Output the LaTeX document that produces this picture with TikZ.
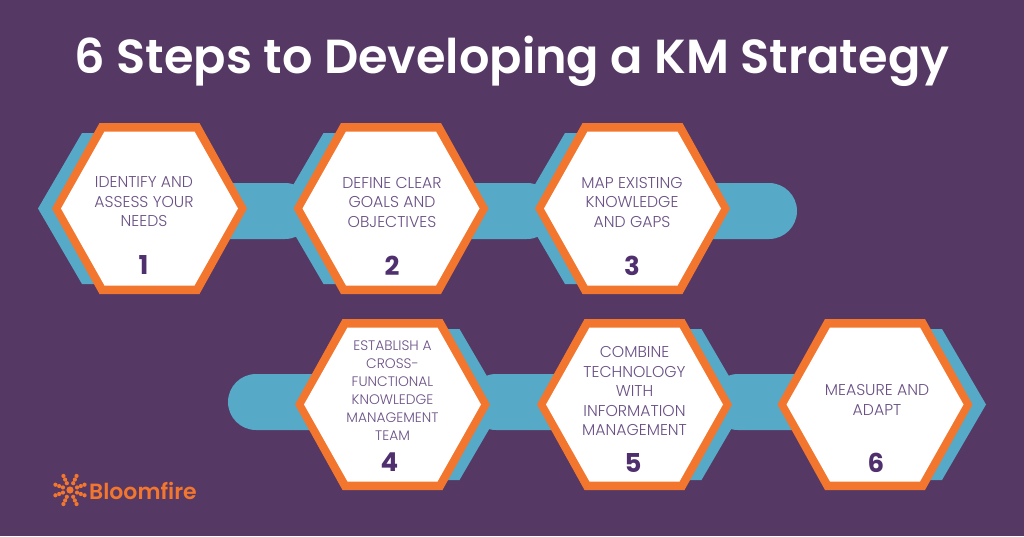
\documentclass[tikz,border=0pt]{standalone}
\usepackage{fontspec}
\setmainfont[UprightFont=* Light]{Poppins}
\newfontfamily\ttlfont[UprightFont=* SemiBold]{Poppins}
\newfontfamily\numfont[UprightFont=* Bold]{Poppins}
\newfontfamily\logofont[UprightFont=* SemiBold]{Poppins}
\definecolor{bgpurple}{HTML}{553864}
\definecolor{hexblue}{HTML}{57A9C8}
\definecolor{hexorange}{HTML}{F2762E}
\definecolor{txtpurple}{HTML}{6A5085}
\definecolor{numpurple}{HTML}{4F2F6E}
\tikzset{
  x=1pt,y=-1pt,
  lbl/.style={text=txtpurple,font=\fontsize{15.7}{19.5}\selectfont,align=center,inner sep=0pt},
  numlbl/.style={text=numpurple,font=\numfont\fontsize{26}{26}\selectfont,inner sep=0pt},
  bar/.style={fill=hexblue,rounded corners=28pt},
  logodot/.style={fill=hexorange,draw=none},
}
% hexagon: #1 centre x, #2 centre y, #3 blue offset
\newcommand{\hexa}[3]{%
  \fill[hexblue] (#1+#3-88,#2) -- (#1+#3-44,#2-75.5) -- (#1+#3+44,#2-75.5) -- (#1+#3+88,#2) -- (#1+#3+44,#2+75.5) -- (#1+#3-44,#2+75.5) -- cycle;
}
\newcommand{\hexb}[2]{%
  \fill[hexorange] (#1-97.5,#2) -- (#1-50,#2-85.5) -- (#1+50,#2-85.5) -- (#1+97.5,#2) -- (#1+50,#2+85.5) -- (#1-50,#2+85.5) -- cycle;
  \fill[white] (#1-88.5,#2) -- (#1-45,#2-77) -- (#1+45,#2-77) -- (#1+88.5,#2) -- (#1+45,#2+77) -- (#1-45,#2+77) -- cycle;
}
\begin{document}
\begin{tikzpicture}
\useasboundingbox (0,0) rectangle (1024,536);
\fill[bgpurple] (0,0) rectangle (1024,536);
\node[text=white,font=\ttlfont\fontsize{47.8}{47.8}\selectfont,inner sep=0pt] (title) at (512,61) {6 Steps to Developing a KM Strategy};
% row 1
\fill[bar] (150,183) rectangle (313,239);
\fill[bar] (390,183) rectangle (555,239);
\fill[bar] (630,183) rectangle (797,239);
\hexa{149.5}{208.5}{-23.5}
\hexa{391}{208.5}{-23.5}
\hexa{632.5}{208.5}{-23.5}
\hexb{149.5}{208.5}
\hexb{391}{208.5}
\hexb{632.5}{208.5}
% row 2
\fill[bar] (228,374) rectangle (390,430);
\fill[bar] (468,374) rectangle (635,430);
\fill[bar] (710,374) rectangle (875,430);
\hexa{392.5}{404.5}{23}
\hexa{634.5}{404.5}{23}
\hexa{875}{404.5}{23}
\hexb{392.5}{404.5}
\hexb{634.5}{404.5}
\hexb{875}{404.5}
% texts
\node[lbl] (t1) at (144,202) {IDENTIFY AND\\ASSESS YOUR\\NEEDS};
\node[numlbl] (n1) at (143.5,265.5) {1};
\node[lbl] (t2) at (392,202) {DEFINE CLEAR\\GOALS AND\\OBJECTIVES};
\node[numlbl] (n2) at (392,265.5) {2};
\node[lbl] (t3) at (632,202) {MAP EXISTING\\KNOWLEDGE\\AND GAPS};
\node[numlbl] (n3) at (632,265.5) {3};
\node[lbl,font=\fontsize{13.8}{18}\selectfont] (t4) at (392.5,391) {ESTABLISH A\\CROSS-\\FUNCTIONAL\\KNOWLEDGE\\MANAGEMENT\\TEAM};
\node[numlbl] (n4) at (389.5,462.5) {4};
\node[lbl] (t5) at (634.5,391) {COMBINE\\TECHNOLOGY\\WITH\\INFORMATION\\MANAGEMENT};
\node[numlbl] (n5) at (633,462.5) {5};
\node[lbl] (t6) at (877,400) {MEASURE AND\\ADAPT};
\node[numlbl] (n6) at (876,462.5) {6};
% logo
\fill[logodot] (70,490) circle (3.6);
\foreach \a in {20,65,115,160,200,245,295,340}{
  \fill[logodot] (70,490) ++(\a:7.5) circle (2.1);
  \fill[logodot] (70,490) ++(\a:11.5) circle (2.1);
  \fill[logodot] (70,490) ++(\a:15.5) circle (2.1);
}
\node[text=hexorange,font=\logofont\fontsize{22}{22}\selectfont,anchor=west,inner sep=0pt] (logo) at (89,490.5) {Bloomfire};
\end{tikzpicture}
\end{document}
